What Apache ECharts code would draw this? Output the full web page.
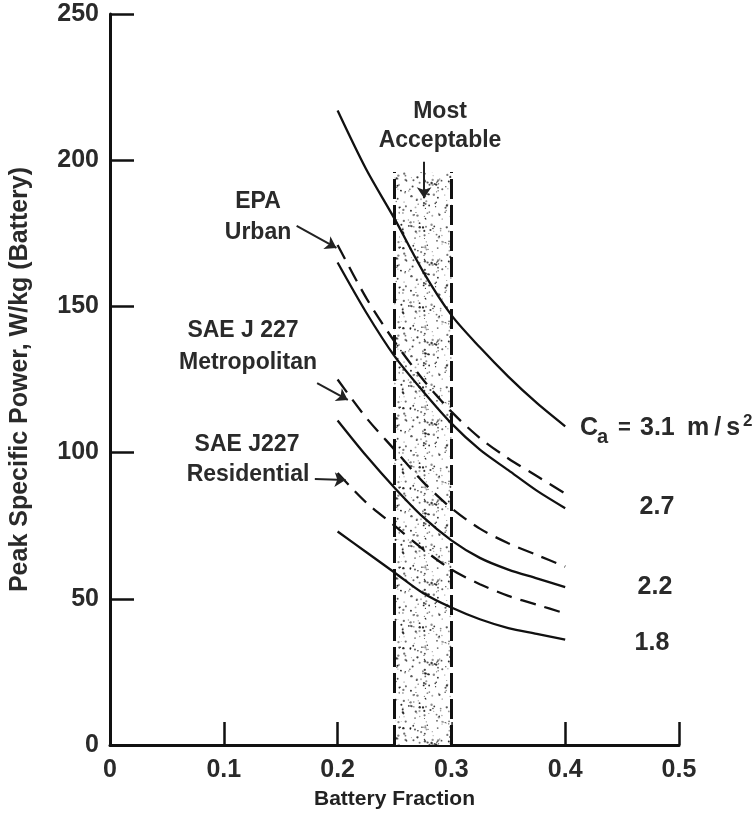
<!DOCTYPE html>
<html>
<head>
<meta charset="utf-8">
<script src="https://cdn.jsdelivr.net/npm/echarts@6/dist/echarts.min.js"></script>
<style>
html, body { margin: 0; padding: 0; background: #fff; }
#chart { width: 756px; height: 819px; }
</style>
</head>
<body>
<div id="chart"></div>
<script>
// battery fraction where each curve was read
var fraction = [0.2, 0.225, 0.25, 0.275, 0.3, 0.325, 0.35, 0.375, 0.4];
var ca31 = [217, 197, 180, 162, 147, 136, 126, 117, 109];
var ca27 = [165, 148, 133, 121, 110, 101, 94, 87, 81];
var ca22 = [111, 99, 88, 78, 70, 64, 60, 57, 54];
var ca18 = [73, 66, 59, 52, 47, 43, 40, 38, 36];
var epaUrban = [171, 153, 138, 125, 114, 105, 98, 92, 86];
var saeMetro = [125, 112, 101, 90, 81, 74, 69, 65, 61];
var saeResid = [93, 83, 75, 67, 60, 55, 51, 48, 45];
// most acceptable band
var bandX = [0.25, 0.30];
var bandTop = 196;
var xTicks = [0, 0.1, 0.2, 0.3, 0.4, 0.5];
var yTicks = [0, 50, 100, 150, 200, 250];

var font = '"Liberation Sans", Arial, sans-serif';

function pts(ys) {
	var out = [];
	for (var i = 0; i < fraction.length; i++) out.push([fraction[i], ys[i]]);
	return out;
}

// stipple texture for the band
var stipple = function(){
	var c = document.createElement('canvas');
	c.width = 80; c.height = 80;
	var g = c.getContext('2d');
	g.fillStyle = '#fff';
	g.fillRect(0, 0, 80, 80);
	var s = 11;
	var next = function(){ s = (s * 9301 + 49297) % 233280; return s / 233280; };
	for (var i = 0; i < 260; i++) {
		var x = next() * 80, y = next() * 80, r = 0.45 + next() * 0.75;
		g.fillStyle = 'rgba(20,20,20,' + (0.35 + next() * 0.6).toFixed(2) + ')';
		g.beginPath();
		g.arc(x, y, r, 0, Math.PI * 2);
		g.fill();
	}
	return c;
};

var myChart = echarts.init(document.getElementById('chart'));

var curve = function(name, ys, dashed){
	return {
		name: name,
		type: 'line',
		data: pts(ys),
		smooth: 0.3,
		showSymbol: false,
		z: 5,
		lineStyle: {color: '#111', width: 2.3, type: dashed ? [16, 9] : 'solid'}
	};
};

var arrows = [
	[[0.164, 177.5], [0.199, 170]],
	[[0.182, 123.8], [0.209, 118]],
	[[0.180, 91], [0.207, 90.6]],
	[[0.276, 199.5], [0.276, 187]]
];

var option = {
	animation: false,
	backgroundColor: '#fff',
	grid: {left: 110, right: 77, top: 14, bottom: 74},
	xAxis: {
		type: 'value',
		min: 0, max: 0.5, interval: 0.1,
		name: 'Battery Fraction',
		nameLocation: 'middle',
		nameGap: 44,
		nameTextStyle: {fontFamily: font, fontSize: 21, fontWeight: 'bold', color: '#222'},
		axisLine: {lineStyle: {color: '#111', width: 3}},
		axisTick: {inside: true, length: 23, lineStyle: {color: '#111', width: 2.5}},
		splitLine: {show: false},
		axisLabel: {
			fontFamily: font, fontSize: 25, fontWeight: 'bold', color: '#2a2a2a', margin: 13,
			formatter: function(v){ return v === 0 ? '0' : String(+v.toFixed(1)); }
		}
	},
	yAxis: {
		type: 'value',
		min: 0, max: 250, interval: 50,
		name: 'Peak Specific Power, W/kg (Battery)',
		nameLocation: 'middle',
		nameGap: 77,
		nameTextStyle: {fontFamily: font, fontSize: 25, fontWeight: 'bold', color: '#2a2a2a'},
		axisLine: {lineStyle: {color: '#111', width: 3}},
		axisTick: {inside: true, length: 24, lineStyle: {color: '#111', width: 2.5}},
		splitLine: {show: false},
		axisLabel: {fontFamily: font, fontSize: 25, fontWeight: 'bold', color: '#2a2a2a', margin: 11}
	},
	series: [
		{
			type: 'line',
			data: [],
			markArea: {
				silent: true,
				itemStyle: {color: {image: stipple(), repeat: 'repeat'}},
				data: [[{xAxis: bandX[0], yAxis: 0}, {xAxis: bandX[1], yAxis: bandTop}]]
			},
			markLine: {
				silent: true,
				symbol: ['none', 'none'],
				label: {show: false},
				lineStyle: {color: '#111', width: 3, type: [20, 6]},
				data: [
					[{coord: [bandX[0], 0]}, {coord: [bandX[0], bandTop]}],
					[{coord: [bandX[1], 0]}, {coord: [bandX[1], bandTop]}]
				]
			}
		},
		curve('3.1', ca31, false),
		curve('2.7', ca27, false),
		curve('2.2', ca22, false),
		curve('1.8', ca18, false),
		curve('EPA Urban', epaUrban, true),
		curve('SAE J 227 Metropolitan', saeMetro, true),
		curve('SAE J227 Residential', saeResid, true),
		{
			type: 'lines',
			coordinateSystem: 'cartesian2d',
			symbol: ['none', 'arrow'],
			symbolSize: 11,
			z: 6,
			lineStyle: {color: '#222', width: 2, opacity: 1, curveness: 0},
			data: arrows.map(function(a){ return {coords: a}; })
		}
	],
	graphic: []
};

var txt = function(x, y, s, opt){
	opt = opt || {};
	return {
		type: 'text', x: x, y: y, z: 10,
		style: {
			text: s,
			fontFamily: font,
			fontSize: opt.size || 23,
			fontWeight: opt.weight || 'bold',
			fill: '#2a2a2a',
			align: opt.align || 'center',
			verticalAlign: 'middle'
		}
	};
};

option.graphic = [
	txt(440, 112, 'Most'),
	txt(440, 141, 'Acceptable'),
	txt(258, 202, 'EPA'),
	txt(258, 233, 'Urban'),
	txt(243, 331, 'SAE J 227'),
	txt(248, 363, 'Metropolitan'),
	txt(247, 445, 'SAE J227'),
	txt(248, 475, 'Residential'),
	txt(580, 428, 'C', {align: 'left', size: 25}),
	txt(597, 437, 'a', {align: 'left', size: 20}),
	txt(618, 428, '=', {align: 'left', size: 22}),
	txt(640, 428, '3.1', {align: 'left', size: 25}),
	txt(687, 428, 'm\u2009/\u2009s', {align: 'left', size: 25}),
	txt(743, 421, '2', {align: 'left', size: 17}),
	txt(657, 507, '2.7', {size: 25}),
	txt(655, 587, '2.2', {size: 25}),
	txt(652, 643, '1.8', {size: 25})
];

myChart.setOption(option);
</script>
</body>
</html>
